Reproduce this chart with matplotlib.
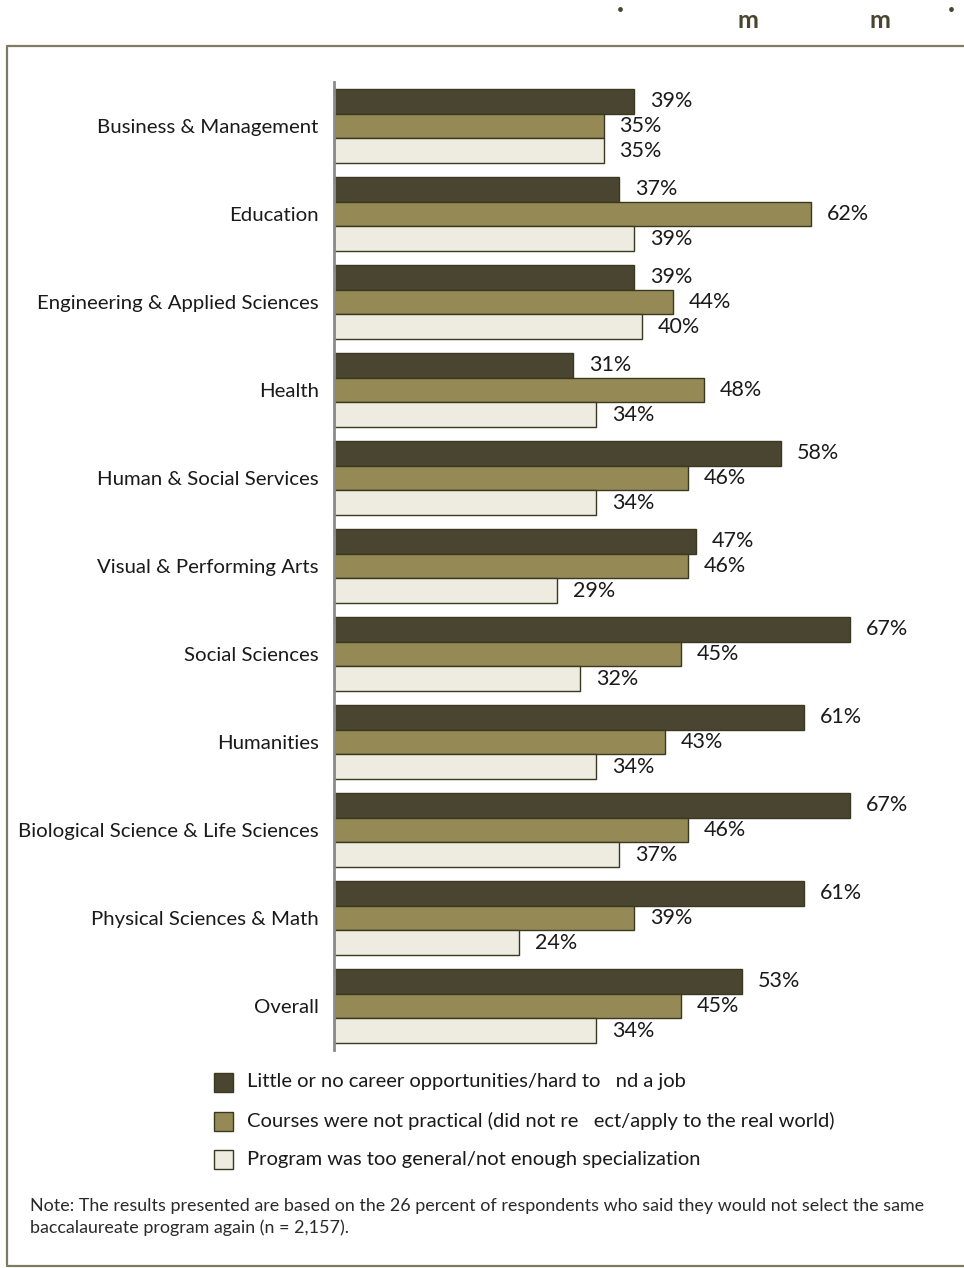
import matplotlib.pyplot as plt
from matplotlib.patches import Rectangle
from matplotlib.lines import Line2D

plt.rcParams['font.family'] = ['Lato', 'DejaVu Sans']

categories = [
    "Business & Management",
    "Education",
    "Engineering & Applied Sciences",
    "Health",
    "Human & Social Services",
    "Visual & Performing Arts",
    "Social Sciences",
    "Humanities",
    "Biological Science & Life Sciences",
    "Physical Sciences & Math",
    "Overall",
]
no_career = [39, 37, 39, 31, 58, 47, 67, 61, 67, 61, 53]
not_practical = [35, 62, 44, 48, 46, 46, 45, 43, 46, 39, 45]
too_general = [35, 39, 40, 34, 34, 29, 32, 34, 37, 24, 34]

series_labels = [
    "Little or no career opportunities/hard to   nd a job",
    "Courses were not practical (did not re   ect/apply to the real world)",
    "Program was too general/not enough specialization",
]
colors = ["#4a4530", "#958a55", "#eeebe0"]
edge = "#3b3822"
frame_col = "#7d7b62"

W, H = 964, 1268
fig = plt.figure(figsize=(W / 100, H / 100), dpi=100)

# plot area: spine at x=334, groups spaced 88px
ax = fig.add_axes([334 / W, 1 - 1050 / H, 616 / W, 968 / H])
ax.set_xlim(0, 80)
ax.set_ylim(10.5, -0.5)

bh = 0.284
offsets = [-bh, 0, bh]
for k, vals in enumerate([no_career, not_practical, too_general]):
    for i, v in enumerate(vals):
        y = i + offsets[k]
        ax.barh(y, v, height=bh, color=colors[k], edgecolor=edge, linewidth=1.0)
        ax.annotate(f"{v}%", (v, y), xytext=(11.5, 0), textcoords="offset points",
                    va="center", ha="left", fontsize=15.5, color="#1a1a1a")

ax.set_yticks(range(len(categories)))
ax.set_yticklabels(categories, fontsize=14.7, color="#1a1a1a")
ax.tick_params(axis="y", length=0, pad=11)
ax.set_xticks([])
for s in ["top", "right", "bottom"]:
    ax.spines[s].set_visible(False)
ax.spines["left"].set_color("#8a8a8a")
ax.spines["left"].set_linewidth(2)

# legend drawn by hand
leg_y = [1082, 1121, 1159]
for k, yy in enumerate(leg_y):
    fig.patches.append(Rectangle((214 / W, 1 - (yy + 10) / H), 19 / W, 19 / H,
                                 transform=fig.transFigure, facecolor=colors[k],
                                 edgecolor=edge, linewidth=1.0))
    fig.text(247 / W, 1 - yy / H, series_labels[k], fontsize=14.5, va="center",
             ha="left", color="#1a1a1a")

note = ("Note: The results presented are based on the 26 percent of respondents who said they would not select the same\n"
        "baccalaureate program again (n = 2,157).")
fig.text(30 / W, 1 - 1198 / H, note, fontsize=12.9, va="top", ha="left",
         color="#2a2a2a", linespacing=1.4)

# frame around the figure
fx = [W, 7, 7, W]
fy = [46, 46, 1266, 1266]
fig.lines.append(Line2D([x / W for x in fx], [1 - y / H for y in fy],
                        transform=fig.transFigure, color=frame_col, linewidth=1.6))

# header marks
for x, y, s in [(620, 10, "·"), (748, 20, "m"), (880, 20, "m"), (951, 10, "·")]:
    fig.text(x / W, 1 - y / H, s, fontsize=18, fontweight="bold", color="#4a4530",
             ha="center", va="center")

fig.savefig("out.png", dpi=100)
